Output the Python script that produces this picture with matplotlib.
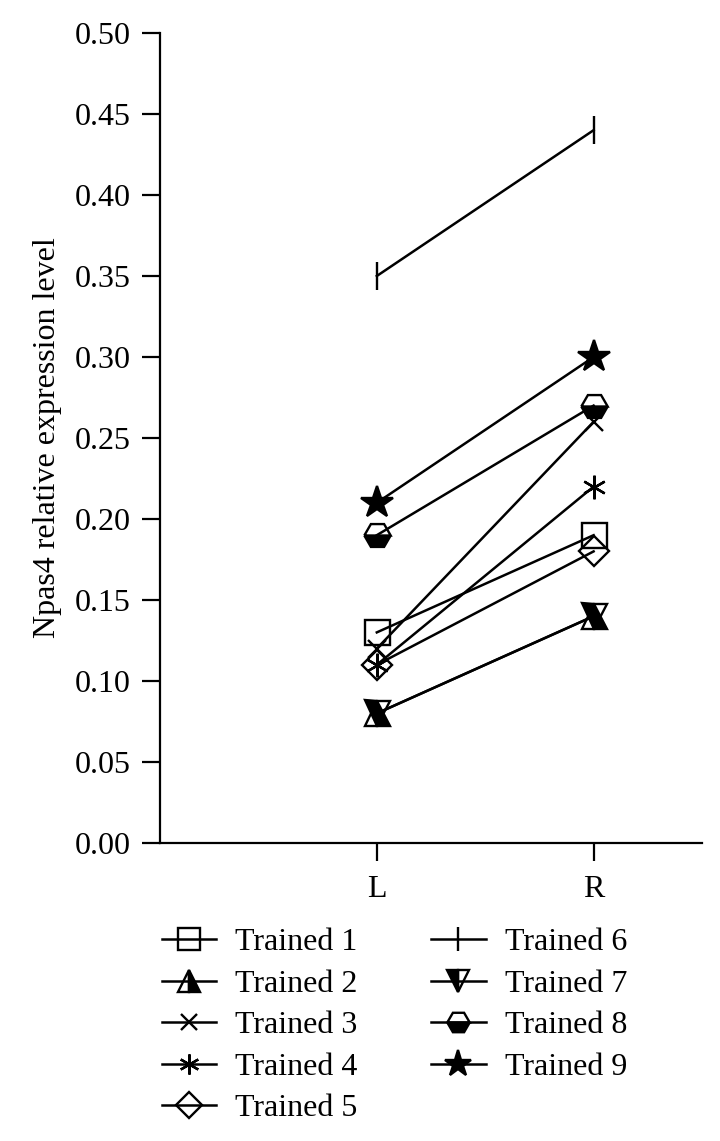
import matplotlib
matplotlib.use("Agg")
import matplotlib.pyplot as plt

plt.rcParams['font.family'] = ['Liberation Serif', 'DejaVu Serif']

sides = ["L", "R"]
labels = ["Trained 1", "Trained 2", "Trained 3", "Trained 4", "Trained 5",
          "Trained 6", "Trained 7", "Trained 8", "Trained 9"]
left_vals = [0.13, 0.08, 0.12, 0.11, 0.11, 0.35, 0.08, 0.19, 0.21]
right_vals = [0.19, 0.14, 0.26, 0.22, 0.18, 0.44, 0.14, 0.27, 0.30]

styles = [
    dict(marker='s', ms=18, mfc='none'),
    dict(marker='^', ms=18, fillstyle='right', mfc='black', mfcalt='none'),
    dict(marker='x', ms=13, mfc='none'),
    dict(marker=(6, 2, 0), ms=17, mfc='none'),
    dict(marker='D', ms=15, mfc='none'),
    dict(marker='|', ms=20, mfc='none'),
    dict(marker='v', ms=18, fillstyle='left', mfc='black', mfcalt='none'),
    dict(marker='H', ms=19, fillstyle='bottom', mfc='black', mfcalt='none'),
    dict(marker='*', ms=24, mfc='black'),
]

fig = plt.figure(figsize=(7.2, 11.41), dpi=100)
ax = fig.add_axes([160/720, 1 - 843/1141, (702-160)/720, (843-33)/1141])

xs = [1, 2]
for lab, lv, rv, st in zip(labels, left_vals, right_vals, styles):
    ax.plot(xs, [lv, rv], color='black', lw=1.8, mec='black', mew=1.7,
            label=lab, **st)

ax.set_xlim(0, 2.5)
ax.set_ylim(0, 0.5)
ax.set_xticks(xs)
ax.set_xticklabels(sides)
ax.set_yticks([i * 0.05 for i in range(11)])
ax.set_yticklabels([f"{i*0.05:.2f}" for i in range(11)])
for s in ['top', 'right']:
    ax.spines[s].set_visible(False)
for s in ['left', 'bottom']:
    ax.spines[s].set_linewidth(1.6)
ax.tick_params(axis='both', direction='out', length=13, width=1.6,
               labelsize=23, pad=8)
ax.tick_params(axis='x', pad=10)
ax.set_ylabel("Npas4 relative expression level", fontsize=23, labelpad=9)

fig.legend(loc='upper left', bbox_to_anchor=(162/720, 1 - 928/1141),
           ncol=2, frameon=False, fontsize=23, markerscale=0.85,
           handlelength=1.7, handletextpad=0.6, columnspacing=2.3,
           labelspacing=0.38, borderpad=0, borderaxespad=0)

fig.savefig("out.png", dpi=100)
